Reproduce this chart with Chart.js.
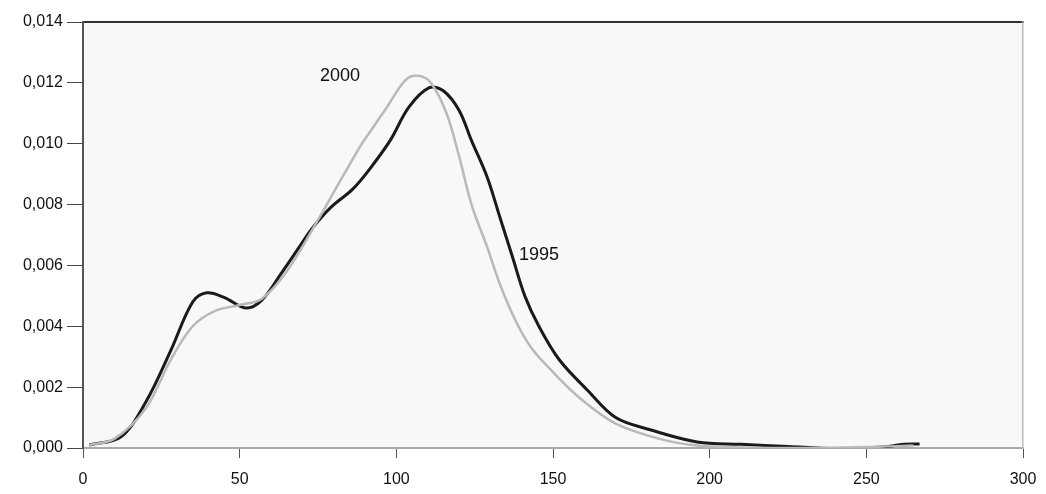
<!DOCTYPE html>
<html>
<head>
<meta charset="utf-8">
<script src="https://cdn.jsdelivr.net/npm/chart.js@4.4.1/dist/chart.umd.min.js"></script>
<style>
  html, body { margin: 0; padding: 0; background: #fff; }
  #wrap { width: 1046px; height: 494px; }
</style>
</head>
<body>
<div id="wrap"><canvas id="densityChart" width="1046" height="494"></canvas></div>
<script>
// values
const x1995 = [2, 12, 20, 28, 35, 39.5, 45, 52, 57, 63, 69, 73, 79, 86, 91, 98, 104, 110.5, 115, 120, 124, 129, 133, 137, 141, 145.5, 152, 161, 170, 181, 196, 210, 225, 240, 255, 262, 267];
const y1995 = [0.0001, 0.00036, 0.0015, 0.0032, 0.0048, 0.0051, 0.00495, 0.0046, 0.00485, 0.0057, 0.0066, 0.0072, 0.0079, 0.0085, 0.0091, 0.0101, 0.0112, 0.01184, 0.01174, 0.0111, 0.0101, 0.0089, 0.0076, 0.0063, 0.0050, 0.0040, 0.0029, 0.0019, 0.0010, 0.0006, 0.0002, 0.00012, 0.00005, -0.00002, 0.00003, 0.00012, 0.00013];

const x2000 = [2, 10, 20, 28, 35, 42, 50, 57, 65, 75, 80, 85, 89, 93, 97, 103, 107, 111, 116, 120, 124, 129, 133, 138, 143, 149, 159, 170, 184, 196, 210, 230, 250, 265];
const y2000 = [0.0001, 0.0003, 0.0013, 0.0029, 0.0040, 0.0045, 0.0047, 0.0049, 0.0058, 0.0075, 0.0084, 0.0093, 0.0100, 0.0106, 0.0112, 0.0121, 0.01223, 0.0120, 0.0110, 0.0096, 0.0080, 0.0066, 0.0054, 0.0042, 0.0033, 0.0026, 0.0016, 0.0008, 0.0003, 0.00008, 0.00002, 0.0, 0.00003, 0.00008];

const seriesLabels = [
    { text: '2000', x: 82, y: 0.01223 },
    { text: '1995', x: 145.5, y: 0.00633 }
];

const toPoints = (xs, ys) => xs.map((x, i) => ({ x: x, y: ys[i] }));

const areaBg = {
    id: 'areaBg',
    beforeDraw(chart) {
        const { ctx, chartArea: a } = chart;
        ctx.save();
        ctx.fillStyle = '#f8f8f8';
        ctx.fillRect(a.left, a.top, a.right - a.left, a.bottom - a.top);
        ctx.restore();
    }
};

const curveLabels = {
    id: 'curveLabels',
    afterDatasetsDraw(chart) {
        const { ctx, scales } = chart;
        ctx.save();
        ctx.font = '18px "Liberation Sans", Arial, sans-serif';
        ctx.fillStyle = '#111';
        ctx.textAlign = 'center';
        ctx.textBaseline = 'middle';
        seriesLabels.forEach(l => {
            ctx.fillText(l.text, scales.x.getPixelForValue(l.x), scales.y.getPixelForValue(l.y));
        });
        ctx.restore();
    }
};

const tickFont = { family: '"Liberation Sans", Arial, sans-serif', size: 16 };

const densityCtx = document.getElementById('densityChart').getContext('2d');
const densityChart = new Chart(densityCtx, {
    type: 'scatter',
    data: {
        datasets: [{
            label: '2000',
            data: toPoints(x2000, y2000),
            showLine: true,
            borderColor: '#b9b9b9',
            borderWidth: 2.5,
            pointRadius: 0,
            tension: 0.35
        }, {
            label: '1995',
            data: toPoints(x1995, y1995),
            showLine: true,
            borderColor: '#1a1a1a',
            borderWidth: 3,
            pointRadius: 0,
            tension: 0.35
        }]
    },
    options: {
        responsive: false,
        animation: false,
        layout: { padding: { top: 22, right: 23, left: 0, bottom: 0 } },
        plugins: {
            legend: { display: false },
            tooltip: { enabled: false }
        },
        scales: {
            x: {
                type: 'linear',
                min: 0,
                max: 300,
                afterFit(scale) {
                    scale.height = 46;
                    scale.paddingLeft = 0;
                    scale.paddingRight = 0;
                },
                ticks: { stepSize: 50, color: '#111', font: tickFont, padding: 12 },
                grid: { drawOnChartArea: false, tickLength: 10, color: '#555' },
                border: { color: '#aaa', width: 2 }
            },
            xTop: {
                type: 'linear',
                position: 'top',
                min: 0,
                max: 300,
                afterFit(scale) { scale.height = 0; },
                ticks: { display: false },
                grid: { display: false },
                border: { color: '#333', width: 2 }
            },
            y: {
                min: 0,
                max: 0.014,
                afterFit(scale) { scale.width = 83; },
                ticks: {
                    stepSize: 0.002,
                    color: '#111',
                    font: tickFont,
                    padding: 4,
                    callback: v => v.toFixed(3).replace('.', ',')
                },
                grid: { drawOnChartArea: false, tickLength: 16, color: '#444' },
                border: { color: '#555', width: 2, dash: [10, 3, 2, 3] }
            },
            yRight: {
                position: 'right',
                min: 0,
                max: 0.014,
                afterFit(scale) { scale.width = 0; },
                ticks: { display: false },
                grid: { display: false },
                border: { color: '#bbb', width: 1.5, dash: [8, 4] }
            }
        }
    },
    plugins: [areaBg, curveLabels]
});
</script>
</body>
</html>
